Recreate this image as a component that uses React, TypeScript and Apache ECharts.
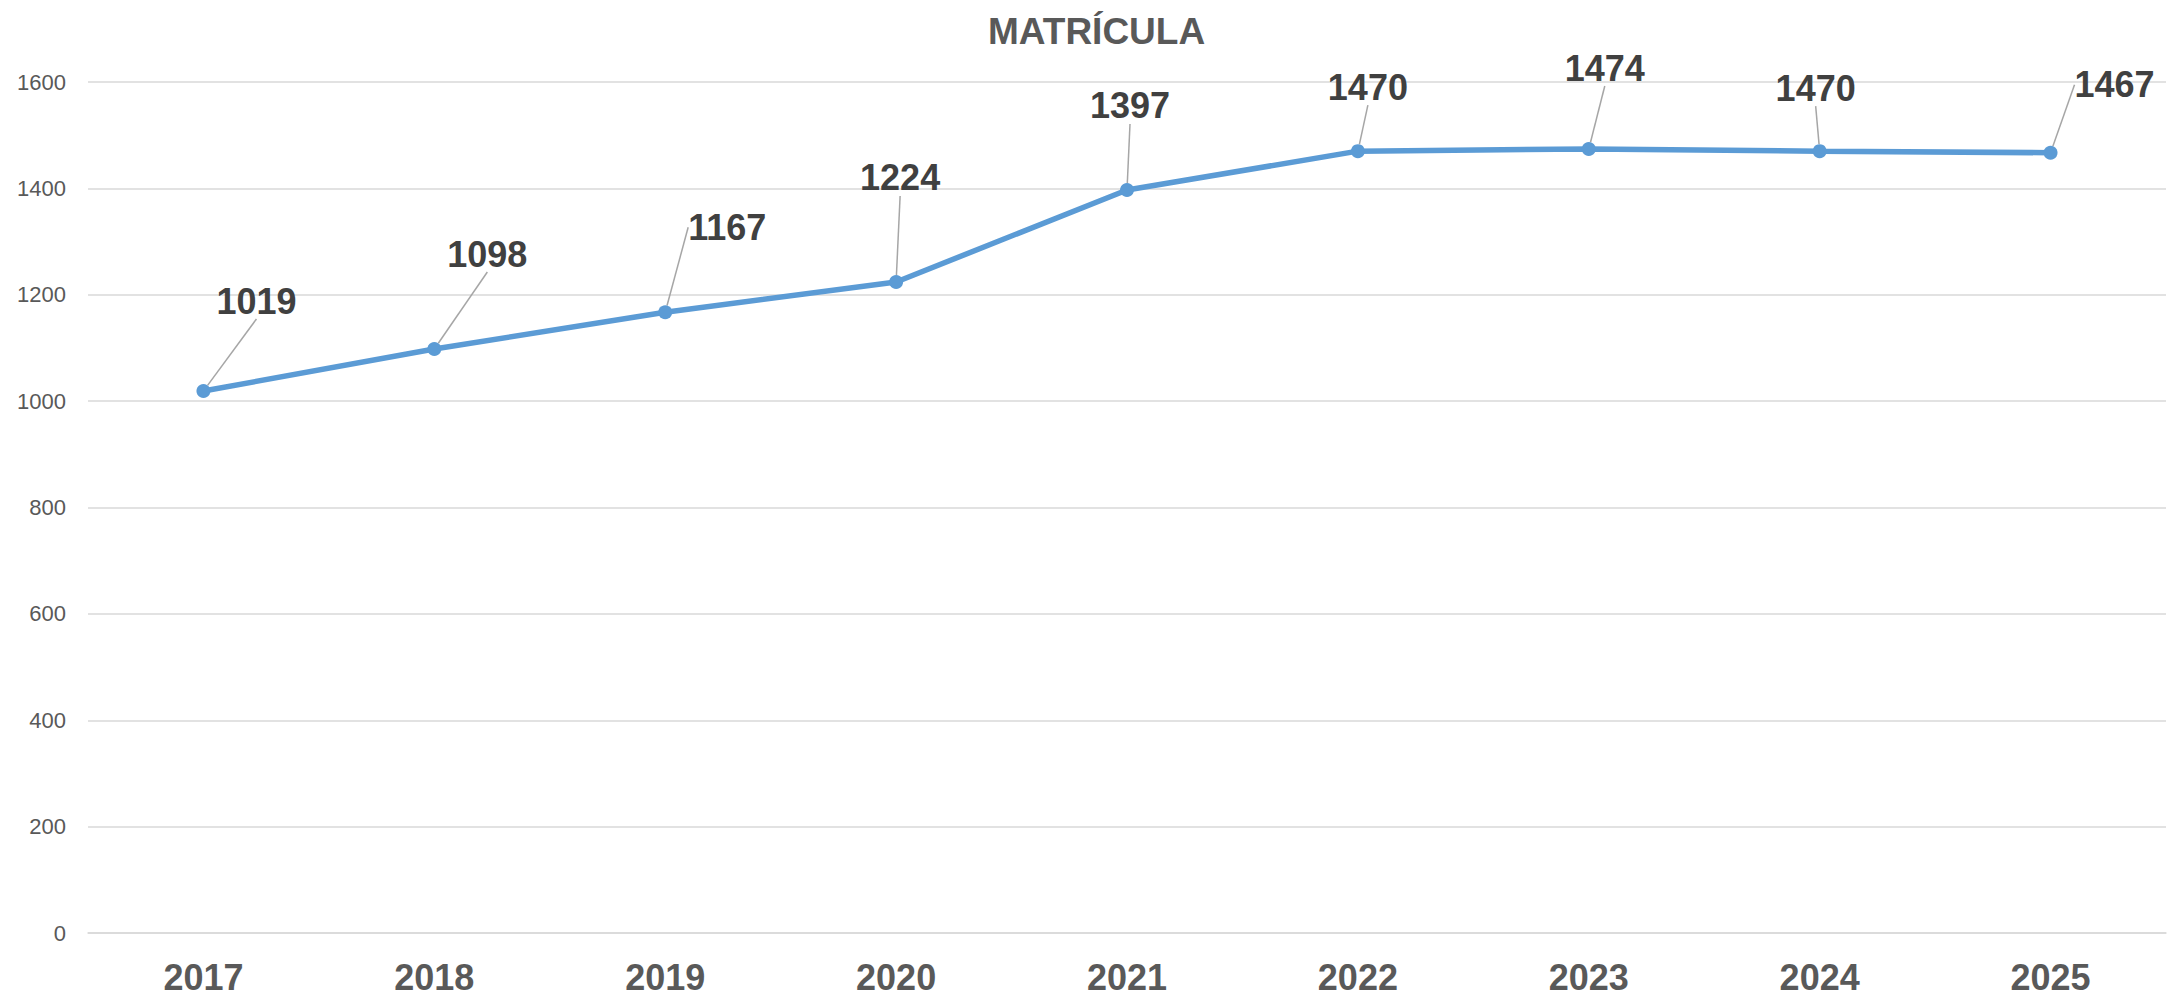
import React, { useEffect, useRef } from "react";
import * as echarts from "echarts";

const TITLE = "MATRÍCULA";
const years = ["2017", "2018", "2019", "2020", "2021", "2022", "2023", "2024", "2025"];
const enrollment = [1019, 1098, 1167, 1224, 1397, 1470, 1474, 1470, 1467];
const yTicks = { min: 0, max: 1600, interval: 200 };

// label offsets (style only): label centre relative to point centre
const labelDx = [53, 53, 62, 4, 3, 10, 16, -4, 64];
const labelDy = [-90, -95, -85, -104, -84, -64, -81, -63, -68];

const FONT = "'Liberation Sans', Arial, sans-serif";

export default function App() {
  const ref = useRef<HTMLDivElement>(null);
  useEffect(() => {
    if (!ref.current) return;
    const chart = echarts.init(ref.current, undefined, { renderer: "svg" });
    chart.setOption({
      animation: false,
      backgroundColor: "#ffffff",
      title: {
        text: TITLE,
        left: 983,
        top: 8,
        textStyle: {
          fontFamily: FONT,
          fontSize: 37,
          fontWeight: "bold",
          color: "#595959",
          lineHeight: 37,
        },
      },
      grid: { left: 88, right: 10, top: 82, bottom: 63, containLabel: false },
      xAxis: {
        type: "category",
        data: years,
        boundaryGap: true,
        axisLine: { show: true, lineStyle: { color: "#D9D9D9", width: 1.5 } },
        axisTick: { show: false },
        axisLabel: {
          margin: 26,
          fontFamily: FONT,
          fontSize: 36,
          fontWeight: "bold",
          color: "#595959",
        },
      },
      yAxis: {
        type: "value",
        min: yTicks.min,
        max: yTicks.max,
        interval: yTicks.interval,
        axisLine: { show: false },
        axisTick: { show: false },
        splitLine: { lineStyle: { color: "#D9D9D9", width: 1.5 } },
        axisLabel: {
          margin: 22,
          fontFamily: FONT,
          fontSize: 22,
          color: "#595959",
          formatter: (v: number) => String(v),
        },
      },
      series: [
        {
          type: "line",
          data: enrollment,
          symbol: "circle",
          symbolSize: 14,
          lineStyle: { color: "#5B9BD5", width: 5.5 },
          itemStyle: { color: "#5B9BD5" },
          label: {
            show: true,
            position: "top",
            fontFamily: FONT,
            fontSize: 36,
            fontWeight: "bold",
            color: "#404040",
            lineHeight: 36,
          },
          labelLine: {
            show: true,
            lineStyle: { color: "#A6A6A6", width: 1.5 },
          },
          labelLayout: (params: any) => {
            const i = params.dataIndex;
            const r = params.rect;
            return {
              x: r.x + r.width / 2 + labelDx[i],
              y: r.y + r.height / 2 + labelDy[i],
              align: "center",
              verticalAlign: "middle",
            };
          },
        },
      ],
    });
    return () => chart.dispose();
  }, []);
  return (
    <div
      ref={ref}
      style={{ position: "fixed", left: 0, top: 0, width: 2176, height: 996, background: "#fff" }}
    />
  );
}
